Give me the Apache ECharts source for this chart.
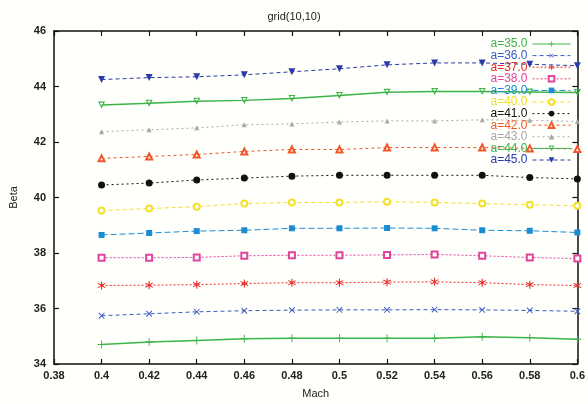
<!DOCTYPE html>
<html>
<head>
<meta charset="utf-8">
<script src="https://cdn.jsdelivr.net/npm/echarts@6/dist/echarts.min.js"></script>
<style>
html, body { margin: 0; padding: 0; background: #fffffb; }
#main { width: 588px; height: 404px; }
</style>
</head>
<body>
<div id="main"></div>
<script>
// Mach numbers on the x axis
const mach = [0.4, 0.42, 0.44, 0.46, 0.48, 0.5, 0.52, 0.54, 0.56, 0.58, 0.6];

// Beta values, one array per a
const beta35 = [34.70, 34.79, 34.85, 34.91, 34.93, 34.93, 34.93, 34.93, 34.98, 34.95, 34.89];
const beta36 = [35.74, 35.81, 35.88, 35.92, 35.94, 35.95, 35.95, 35.96, 35.95, 35.93, 35.90];
const beta37 = [36.83, 36.84, 36.86, 36.90, 36.93, 36.93, 36.95, 36.96, 36.93, 36.86, 36.83];
const beta38 = [37.83, 37.83, 37.84, 37.90, 37.92, 37.92, 37.93, 37.95, 37.90, 37.84, 37.80];
const beta39 = [38.65, 38.72, 38.79, 38.82, 38.89, 38.89, 38.90, 38.89, 38.82, 38.80, 38.74];
const beta40 = [39.53, 39.60, 39.67, 39.78, 39.82, 39.82, 39.85, 39.82, 39.78, 39.74, 39.70];
const beta41 = [40.45, 40.52, 40.63, 40.70, 40.77, 40.80, 40.80, 40.80, 40.80, 40.72, 40.67];
const beta42 = [41.41, 41.48, 41.55, 41.66, 41.73, 41.73, 41.80, 41.80, 41.80, 41.77, 41.75];
const beta43 = [42.37, 42.44, 42.51, 42.62, 42.65, 42.72, 42.76, 42.76, 42.80, 42.78, 42.74];
const beta44 = [43.33, 43.40, 43.47, 43.50, 43.57, 43.68, 43.79, 43.82, 43.82, 43.80, 43.78];
const beta45 = [44.25, 44.32, 44.35, 44.42, 44.53, 44.64, 44.78, 44.85, 44.85, 44.80, 44.75];

const seriesNames = ['a=35.0', 'a=36.0', 'a=37.0', 'a=38.0', 'a=39.0', 'a=40.0',
                     'a=41.0', 'a=42.0', 'a=43.0', 'a=44.0', 'a=45.0'];
const seriesData = [beta35, beta36, beta37, beta38, beta39, beta40,
                    beta41, beta42, beta43, beta44, beta45];

const colors = ['#3cb44a', '#3a5cc4', '#e82a2a', '#e0449c', '#1c8cd2', '#f2e02a',
                '#111111', '#f0582a', '#a8a8a8', '#3cb44a', '#2a3aa8'];

const plusPath = 'path://M4.4,0H5.6V4.4H10V5.6H5.6V10H4.4V5.6H0V4.4H4.4Z';
const starPath = 'path://M4.4,0H5.6V3.6L8.8,1.8L9.4,2.8L6.2,4.6V5.4L9.4,7.2L8.8,8.2L5.6,6.4V10H4.4V6.4L1.2,8.2L0.6,7.2L3.8,5.4V4.6L0.6,2.8L1.2,1.8L4.4,3.6Z';
const downTri = 'path://M0,0L10,0L5,9Z';
const downTriOpen = 'path://M0,0L10,0L5,9ZM2.4,1.4L5,6L7.6,1.4Z';

const symbols = [plusPath, plusPath, starPath, 'emptyRect', 'rect', 'emptyCircle',
                 'circle', 'emptyTriangle', 'triangle', downTriOpen, downTri];
const symbolRotate = [0, 45, 0, 0, 0, 0, 0, 0, 0, 0, 0];
const symbolSize = [8, 8, 8, 6, 6, 6, 7, 6, 5, 7, 7];
const lineTypes = ['solid', [4, 3], [2, 2], [2, 2], [6, 3], [4, 3],
                   [2, 3], [3, 3], [2, 3], 'solid', [4, 3]];

const chart = echarts.init(document.getElementById('main'));

const series = seriesNames.map((name, i) => ({
    name: name,
    type: 'line',
    data: mach.map((m, j) => [m, seriesData[i][j]]),
    symbol: symbols[i],
    symbolSize: symbolSize[i],
    symbolRotate: symbolRotate[i],
    xAxisIndex: 0,
    yAxisIndex: 0,
    itemStyle: { color: colors[i], borderWidth: 1 },
    lineStyle: { color: colors[i], width: i === 0 || i === 9 ? 1.5 : 1, type: lineTypes[i] },
    emphasis: { disabled: true },
    animation: false
}));

const tickFont = { fontFamily: 'Liberation Sans', fontSize: 11, fontWeight: 'bold', color: '#222' };

const option = {
    backgroundColor: '#fffffb',
    title: {
        text: 'grid(10,10)',
        left: 'center',
        top: 6,
        textStyle: { fontFamily: 'Liberation Sans', fontSize: 11, fontWeight: 'normal', color: '#222' }
    },
    legend: {
        orient: 'vertical',
        right: 12,
        top: 33,
        align: 'right',
        itemGap: -0.4,
        itemWidth: 38,
        itemHeight: 7,
        lineStyle: { width: 1 },
        data: seriesNames.map((n, i) => ({
            name: n,
            textStyle: { color: colors[i], fontFamily: 'Liberation Sans', fontSize: 12, padding: 0 }
        }))
    },
    grid: { left: 53, right: 9, top: 31, bottom: 35 },
    xAxis: [{
        type: 'value',
        min: 0.38,
        max: 0.6,
        interval: 0.02,
        name: 'Mach',
        nameLocation: 'middle',
        nameGap: 24,
        nameTextStyle: { fontFamily: 'Liberation Sans', fontSize: 11, color: '#222' },
        axisLine: { lineStyle: { color: '#111', width: 1.5 } },
        axisTick: { inside: true, length: 5, lineStyle: { color: '#111', width: 1.2 } },
        axisLabel: Object.assign({ margin: 6, formatter: v => String(parseFloat(v.toFixed(2))) }, tickFont),
        splitLine: { show: false }
    }, {
        type: 'value',
        position: 'top',
        min: 0.38,
        max: 0.6,
        interval: 0.02,
        axisLine: { show: true, lineStyle: { color: '#111', width: 1.5 } },
        axisTick: { inside: true, length: 5, lineStyle: { color: '#111', width: 1.2 } },
        axisLabel: { show: false },
        splitLine: { show: false }
    }],
    yAxis: [{
        type: 'value',
        min: 34,
        max: 46,
        interval: 2,
        name: 'Beta',
        nameLocation: 'middle',
        nameGap: 35,
        nameRotate: 90,
        nameTextStyle: { fontFamily: 'Liberation Sans', fontSize: 11, color: '#222' },
        axisLine: { show: true, lineStyle: { color: '#111', width: 1.5 } },
        axisTick: { show: true, inside: true, length: 5, lineStyle: { color: '#111', width: 1.2 } },
        axisLabel: Object.assign({ margin: 8 }, tickFont),
        splitLine: { show: false }
    }, {
        type: 'value',
        position: 'right',
        min: 34,
        max: 46,
        interval: 2,
        axisLine: { show: true, lineStyle: { color: '#111', width: 1.5 } },
        axisTick: { show: true, inside: true, length: 5, lineStyle: { color: '#111', width: 1.2 } },
        axisLabel: { show: false },
        splitLine: { show: false }
    }],
    series: series
};

chart.setOption(option);
</script>
</body>
</html>
